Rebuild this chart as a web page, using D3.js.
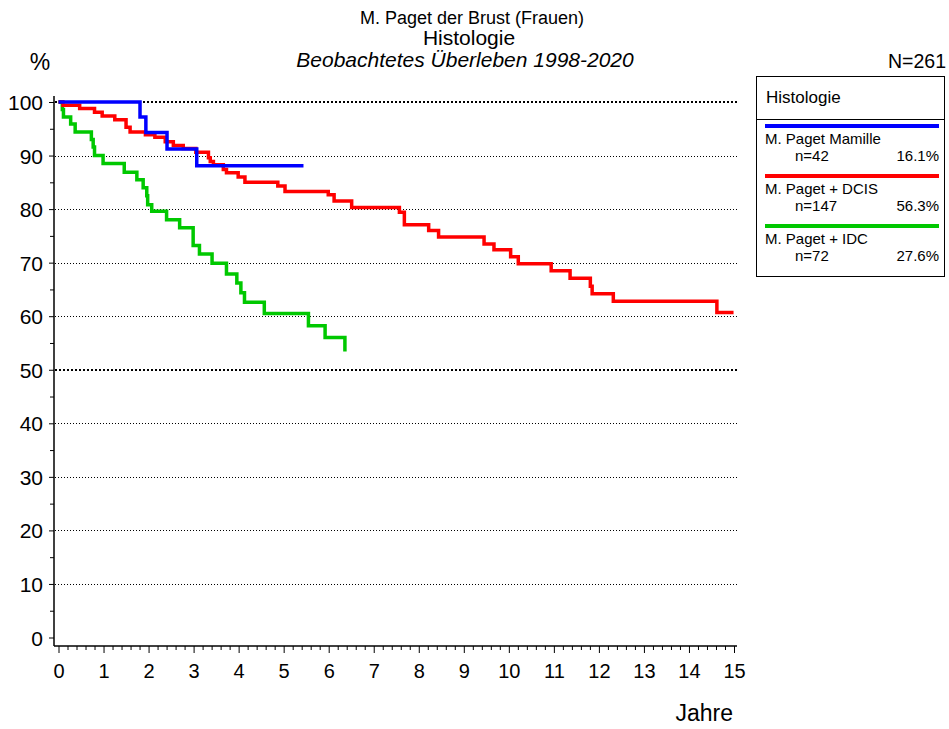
<!DOCTYPE html>
<html>
<head>
<meta charset="utf-8">
<script src="https://cdn.jsdelivr.net/npm/d3@7"></script>
<style>
  html, body { margin: 0; padding: 0; background: #fff; }
  svg { display: block; font-family: "Liberation Sans", Arial, sans-serif; }
</style>
</head>
<body>
<svg id="chart" width="949" height="729"></svg>
<script>
// ---------- data ----------
const titleLines = ["M. Paget der Brust (Frauen)", "Histologie", "Beobachtetes Überleben 1998-2020"];
const totalN = "N=261";
const legendTitle = "Histologie";
const seriesNames = ["M. Paget Mamille", "M. Paget + DCIS", "M. Paget + IDC"];
const seriesN = ["n=42", "n=147", "n=72"];
const seriesPct = ["16.1%", "56.3%", "27.6%"];
const seriesColors = ["#0000ff", "#ff0000", "#00c800"];

const xTicks = [0,1,2,3,4,5,6,7,8,9,10,11,12,13,14,15];
const yTicks = [0,10,20,30,40,50,60,70,80,90,100];

// Kaplan-Meier step points: time (years) and survival (%)
const mamilleT = [0, 1.81, 1.94, 2.41, 3.07, 5.44];
const mamilleS = [100, 97.2, 94.3, 91.2, 88.1, 88.1];

const dcisT = [0, 0.10, 0.47, 0.80, 0.97, 1.25, 1.50, 1.59, 1.93, 2.14, 2.37, 2.55, 2.77, 3.05, 3.33, 3.37, 3.44, 3.66, 3.73, 3.99, 4.14, 4.87, 5.03, 5.99, 6.12, 6.51, 7.57, 7.68, 8.22, 8.44, 9.45, 9.67, 10.04, 10.21, 10.94, 11.36, 11.81, 11.85, 12.32, 14.62, 14.99];
const dcisS = [100, 99.4, 98.8, 98.1, 97.4, 96.7, 95.3, 94.4, 93.9, 93.4, 92.6, 91.9, 91.3, 90.6, 89.6, 88.9, 88.3, 87.4, 86.8, 86.0, 85.0, 84.3, 83.3, 82.7, 81.5, 80.3, 79.4, 77.1, 76.0, 74.8, 73.5, 72.4, 71.1, 69.8, 68.5, 67.1, 65.6, 64.2, 62.8, 60.7, 60.7];

const idcT = [0, 0.085, 0.11, 0.27, 0.37, 0.73, 0.77, 0.80, 0.99, 1.46, 1.74, 1.88, 1.96, 1.98, 2.07, 2.40, 2.69, 2.99, 3.13, 3.41, 3.73, 3.96, 4.05, 4.13, 4.57, 5.55, 5.92, 6.36];
const idcS = [100, 98.6, 97.2, 95.9, 94.4, 93.0, 91.6, 90.0, 88.5, 86.9, 85.5, 84.0, 82.5, 80.8, 79.6, 78.0, 76.5, 73.2, 71.6, 69.9, 67.9, 66.2, 64.4, 62.6, 60.5, 58.2, 56.0, 53.4];

// ---------- chart ----------
const svg = d3.select("#chart");
const x = d3.scaleLinear().domain([0, 15]).range([58.5, 734]);
const y = d3.scaleLinear().domain([0, 100]).range([637.5, 102]);

// titles
const tSizes = [18, 21, 21];
const tY = [24, 45, 67];
const tX = [472, 469, 465];
titleLines.forEach((t, i) => {
  svg.append("text").attr("x", tX[i]).attr("y", tY[i])
    .attr("text-anchor", "middle").attr("font-size", tSizes[i])
    .attr("font-style", i === 2 ? "italic" : "normal")
    .text(t);
});
svg.append("text").attr("x", 40).attr("y", 70).attr("text-anchor", "middle")
  .attr("font-size", 23).text("%");
svg.append("text").attr("x", 946).attr("y", 68).attr("text-anchor", "end")
  .attr("font-size", 19.5).text(totalN);

// grid lines
const gridG = svg.append("g");
yTicks.filter(v => v > 0).forEach(v => {
  const heavy = (v === 100 || v === 50);
  gridG.append("line")
    .attr("x1", 55).attr("x2", 737)
    .attr("y1", Math.round(y(v)) + (heavy ? 0 : 0.5)).attr("y2", Math.round(y(v)) + (heavy ? 0 : 0.5))
    .attr("stroke", "#000")
    .attr("stroke-width", heavy ? 2 : 1)
    .attr("stroke-dasharray", heavy ? "2,2" : "1,2");
});

// y axis
const yAxisMajor = d3.axisLeft(y).tickValues(yTicks).tickSize(5).tickPadding(6)
  .tickFormat(d3.format("d"));
const yAxisMinor = d3.axisLeft(y).tickValues(d3.range(5, 100, 10)).tickSize(4).tickFormat("");
const gy = svg.append("g").attr("transform", "translate(54,0)").call(yAxisMajor);
const gy2 = svg.append("g").attr("transform", "translate(54,0)").call(yAxisMinor);
[gy, gy2].forEach(g => {
  g.select(".domain").remove();
  g.selectAll("line").attr("stroke", "#000").attr("stroke-width", 1);
});
gy.selectAll("text").attr("font-size", 21).attr("font-family", "'Liberation Sans', Arial, sans-serif")
  .attr("fill", "#000").attr("dy", "0.36em");
svg.append("line").attr("x1", 54).attr("x2", 54).attr("y1", 96).attr("y2", 646)
  .attr("stroke", "#000").attr("stroke-width", 1.5);

// x axis
const xAxisMajor = d3.axisBottom(x).tickValues(xTicks).tickSize(7).tickPadding(11)
  .tickFormat(d3.format("d"));
const xMinorVals = d3.range(0, 75).map(i => i / 5).filter(v => Math.abs(v - Math.round(v)) > 1e-6);
const xAxisMinor = d3.axisBottom(x).tickValues(xMinorVals).tickSize(4).tickFormat("");
const gx = svg.append("g").attr("transform", "translate(0,646)").call(xAxisMajor);
const gx2 = svg.append("g").attr("transform", "translate(0,646)").call(xAxisMinor);
[gx, gx2].forEach(g => {
  g.select(".domain").remove();
  g.selectAll("line").attr("stroke", "#000").attr("stroke-width", 1);
});
gx.selectAll("text").attr("font-size", 20).attr("font-family", "'Liberation Sans', Arial, sans-serif")
  .attr("fill", "#000");
svg.append("line").attr("x1", 54).attr("x2", 737).attr("y1", 646).attr("y2", 646)
  .attr("stroke", "#000").attr("stroke-width", 1.5);

svg.append("text").attr("x", 733).attr("y", 721).attr("text-anchor", "end")
  .attr("font-size", 23).text("Jahre");

// curves
const line = d3.line().x(d => x(d[0])).y(d => y(d[1])).curve(d3.curveStepAfter);
const series = [
  d3.zip(mamilleT, mamilleS),
  d3.zip(dcisT, dcisS),
  d3.zip(idcT, idcS)
];
[2, 1, 0].forEach(i => {
  svg.append("path").datum(series[i])
    .attr("d", line).attr("fill", "none")
    .attr("stroke", seriesColors[i]).attr("stroke-width", 3.5)
    .attr("stroke-linejoin", "miter");
});

// legend
const lg = svg.append("g");
lg.append("rect").attr("x", 756.5).attr("y", 76.5).attr("width", 188).attr("height", 200)
  .attr("fill", "#fff").attr("stroke", "#000").attr("stroke-width", 1);
lg.append("line").attr("x1", 756.5).attr("x2", 944.5).attr("y1", 119.5).attr("y2", 119.5)
  .attr("stroke", "#000").attr("stroke-width", 1);
lg.append("text").attr("x", 766).attr("y", 103).attr("font-size", 17).text(legendTitle);
seriesNames.forEach((nm, i) => {
  const base = 126 + i * 50;
  lg.append("line").attr("x1", 765).attr("x2", 939).attr("y1", base).attr("y2", base)
    .attr("stroke", seriesColors[i]).attr("stroke-width", 4);
  lg.append("text").attr("x", 765).attr("y", base + 18).attr("font-size", 15).text(nm);
  lg.append("text").attr("x", 795).attr("y", base + 35).attr("font-size", 15).text(seriesN[i]);
  lg.append("text").attr("x", 939).attr("y", base + 35).attr("text-anchor", "end")
    .attr("font-size", 15).text(seriesPct[i]);
});
</script>
</body>
</html>
